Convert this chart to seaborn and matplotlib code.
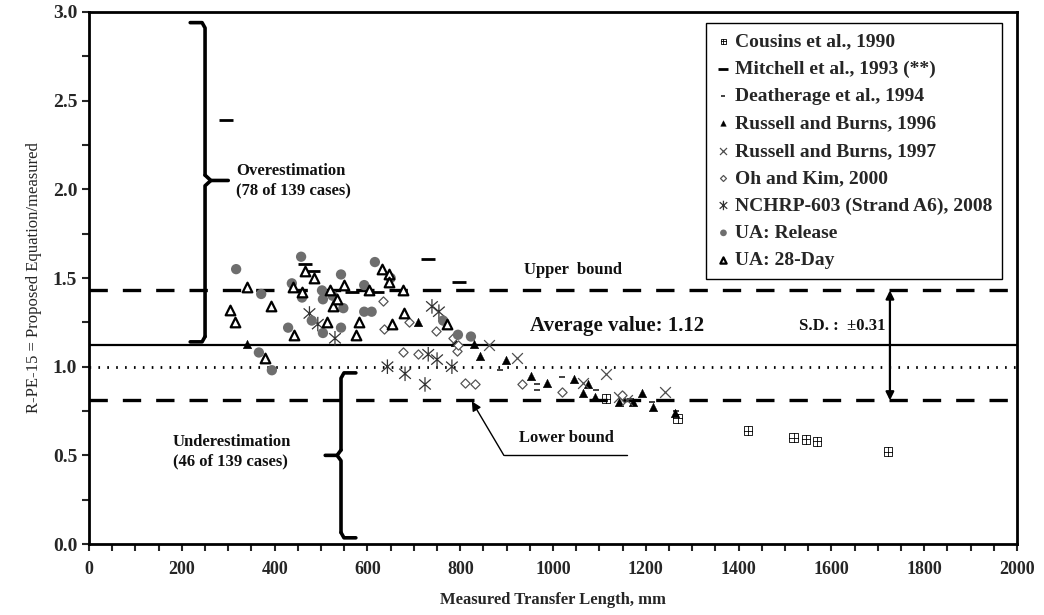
import numpy as np
import matplotlib
matplotlib.use("Agg")
import matplotlib.pyplot as plt
from matplotlib.path import Path
from matplotlib.ticker import MultipleLocator
import seaborn as sns

# ---- data (x: transfer length mm, y: ratio) ----
cousins_x = [1114, 1269, 1420, 1519, 1545, 1569, 1722]
cousins_y = [0.82, 0.71, 0.64, 0.60, 0.59, 0.58, 0.52]

mitchell_x = [295, 466, 482, 567, 620, 731, 797]
mitchell_y = [2.39, 1.58, 1.54, 1.42, 1.42, 1.61, 1.48]

deatherage_x = [886, 965, 965, 1019, 1093, 1166, 1213, 1265]
deatherage_y = [0.98, 0.90, 0.87, 0.94, 0.87, 0.82, 0.80, 0.75]

rb96_x = [341, 709, 789, 830, 843, 899, 952, 987, 1045, 1064, 1076, 1090,
          1172, 1192, 1216, 1263, 1142]
rb96_y = [1.13, 1.25, 1.14, 1.13, 1.06, 1.04, 0.95, 0.91, 0.93, 0.85, 0.90,
          0.83, 0.80, 0.85, 0.77, 0.74, 0.80]

rb97_x = [862, 922, 1064, 1114, 1142, 1160, 1241]
rb97_y = [1.12, 1.05, 0.91, 0.96, 0.83, 0.81, 0.86]

oh_x = [634, 636, 690, 748, 785, 677, 709, 793, 810, 832, 933, 1019, 1148, 796]
oh_y = [1.37, 1.21, 1.25, 1.20, 1.16, 1.08, 1.07, 1.09, 0.91, 0.90, 0.90,
        0.86, 0.84, 1.12]

nchrp_x = [475, 493, 530, 643, 681, 724, 731, 750, 782, 739, 754]
nchrp_y = [1.30, 1.24, 1.16, 1.00, 0.96, 0.90, 1.07, 1.04, 1.00, 1.34, 1.31]

ua_rel_x = [317, 371, 366, 394, 429, 437, 457, 459, 480, 502, 504, 504, 525,
            543, 543, 548, 593, 593, 609, 616, 650, 763, 795, 823]
ua_rel_y = [1.55, 1.41, 1.08, 0.98, 1.22, 1.47, 1.62, 1.39, 1.26, 1.43, 1.38,
            1.19, 1.40, 1.52, 1.22, 1.33, 1.31, 1.46, 1.31, 1.59, 1.50, 1.26,
            1.18, 1.17]

ua_28_x = [304, 315, 341, 392, 379, 440, 458, 466, 485, 442, 512, 519, 525,
           535, 550, 575, 582, 603, 631, 647, 647, 652, 677, 679, 772]
ua_28_y = [1.32, 1.25, 1.45, 1.34, 1.05, 1.45, 1.42, 1.54, 1.50, 1.18, 1.25,
           1.43, 1.34, 1.38, 1.46, 1.18, 1.25, 1.43, 1.55, 1.52, 1.48, 1.24,
           1.43, 1.30, 1.24]

avg_val = 1.12
sd_val = 0.31

# ---- custom markers ----
box_plus = Path([(-1, -1), (1, -1), (1, 1), (-1, 1), (-1, -1),
                 (0, -1), (0, 1), (-1, 0), (1, 0)],
                [Path.MOVETO, Path.LINETO, Path.LINETO, Path.LINETO, Path.CLOSEPOLY,
                 Path.MOVETO, Path.LINETO, Path.MOVETO, Path.LINETO])
star6 = Path([(-0.8, -0.7), (0.8, 0.7), (-0.8, 0.7), (0.8, -0.7), (0, -1), (0, 1)],
             [Path.MOVETO, Path.LINETO, Path.MOVETO, Path.LINETO, Path.MOVETO, Path.LINETO])

sns.set_style("ticks")
plt.rcParams['font.family'] = ['Liberation Serif', 'DejaVu Serif']
plt.rcParams['mathtext.fontset'] = 'stix'

fig = plt.figure(figsize=(10.44, 6.15), dpi=100)
ax = fig.add_axes([0.0853, 0.1154, 0.8889, 0.8651])

series = [
    (cousins_x, cousins_y, "Cousins et al., 1990",
     dict(marker=box_plus, s=40, facecolor="none", edgecolor="black", linewidth=0.6)),
    (mitchell_x, mitchell_y, "Mitchell et al., 1993 (**)",
     dict(marker="_", s=110, color="black", linewidth=2.0)),
    (deatherage_x, deatherage_y, "Deatherage et al., 1994",
     dict(marker="_", s=16, color="#333333", linewidth=1.3)),
    (rb96_x, rb96_y, "Russell and Burns, 1996",
     dict(marker="^", s=38, color="black", edgecolor="black", linewidth=0.3)),
    (rb97_x, rb97_y, "Russell and Burns, 1997",
     dict(marker="x", s=60, color="#4d4d4d", linewidth=0.9)),
    (oh_x, oh_y, "Oh and Kim, 2000",
     dict(marker="D", s=22, facecolor="white", edgecolor="#555555", linewidth=0.9)),
    (nchrp_x, nchrp_y, "NCHRP-603 (Strand A6), 2008",
     dict(marker=star6, s=110, facecolor="none", edgecolor="#333333", linewidth=0.9)),
    (ua_rel_x, ua_rel_y, "UA: Release",
     dict(marker="o", s=55, color="#6e6e6e", edgecolor="none", linewidth=0)),
    (ua_28_x, ua_28_y, "UA: 28-Day",
     dict(marker="^", s=48, facecolor="white", edgecolor="black", linewidth=1.6)),
]

# reference lines
ax.axhline(avg_val + sd_val, color="black", lw=2.4, ls=(0, (5.5, 4.5)), zorder=1)
ax.axhline(avg_val - sd_val, color="black", lw=2.4, ls=(0, (5.5, 4.5)), zorder=1)
ax.axhline(avg_val, color="black", lw=1.6, zorder=1)
ax.axhline(1.0, color="black", lw=2.0, ls=(0, (0.6, 2.6)), zorder=1)

for xs, ys, lab, kw in series:
    sns.scatterplot(x=xs, y=ys, ax=ax, label=lab, zorder=3, **kw)

ax.set_xlim(0, 2000)
ax.set_ylim(0, 3.0)
ax.xaxis.set_major_locator(MultipleLocator(200))
ax.xaxis.set_minor_locator(MultipleLocator(50))
ax.yaxis.set_major_locator(MultipleLocator(0.5))
ax.yaxis.set_minor_locator(MultipleLocator(0.25))
ax.yaxis.set_major_formatter(matplotlib.ticker.FormatStrFormatter("%.1f"))
ax.tick_params(which="both", direction="out", length=5, width=1.5,
               top=False, right=False)
ax.tick_params(axis="x", which="major", pad=7)
for lbl in ax.get_xticklabels():
    lbl.set_fontweight("bold")
    lbl.set_fontsize(13)
for lbl in ax.get_yticklabels():
    lbl.set_fontweight("bold")
    lbl.set_fontsize(14)
for sp in ax.spines.values():
    sp.set_linewidth(2.0)
    sp.set_color("black")
    sp.set_visible(True)

ax.set_xlabel("Measured Transfer Length, mm", fontsize=12, fontweight="bold", labelpad=10)
ax.set_ylabel("R-PE-15 = Proposed Equation/measured", fontsize=12, labelpad=8)


def brace(x0, y0, y1, ym, stub, tip):
    # curly bracket: vertical at x0, ends bent toward x0+stub, tip toward x0+tip
    r = 0.03
    kw = dict(color="black", lw=2.6, solid_capstyle="round", solid_joinstyle="round")
    ax.plot([x0 + stub, x0 + stub * 0.2, x0, x0], [y1, y1, y1 - r, ym + r], **kw)
    ax.plot([x0, x0 + tip * 0.25, x0 + tip], [ym + r, ym, ym], **kw)
    ax.plot([x0 + tip * 0.25, x0, x0], [ym, ym - r, y0 + r], **kw)
    ax.plot([x0, x0 + stub * 0.2, x0 + stub], [y0 + r, y0, y0], **kw)


brace(250, 1.14, 2.94, 2.05, -32, 50)
brace(543, 0.035, 0.965, 0.50, 32, -34)

tfont = dict(fontsize=12, fontweight="bold", color="#111111")
ax.text(317, 2.05, "Overestimation\n(78 of 139 cases)", ha="left", va="center",
        linespacing=1.25, **tfont)
ax.text(181, 0.52, "Underestimation\n(46 of 139 cases)", ha="left", va="center",
        linespacing=1.25, **tfont)
ax.text(1043, 1.545, "Upper  bound", ha="center", va="center", **tfont)
ax.text(1138, 1.23, "Average value: 1.12", ha="center", va="center",
        fontsize=15, fontweight="bold", color="#111111")
ax.text(1716, 1.23, "S.D. :  \u00b10.31", ha="right", va="center", **tfont)
ax.text(1028, 0.60, "Lower bound", ha="center", va="center", **tfont)

# S.D. double arrow
ax.annotate("", xy=(1726, avg_val + sd_val), xytext=(1726, avg_val - sd_val),
            arrowprops=dict(arrowstyle="<|-|>", color="black", lw=1.6,
                            mutation_scale=12, shrinkA=0, shrinkB=0))
# lower bound pointer
ax.plot([894, 1160], [0.50, 0.50], color="black", lw=1.0)
ax.annotate("", xy=(825, 0.805), xytext=(894, 0.50),
            arrowprops=dict(arrowstyle="-|>", color="black", lw=1.0,
                            mutation_scale=14, shrinkA=0, shrinkB=0))

leg = ax.legend(loc="upper right", bbox_to_anchor=(0.984, 0.979), borderaxespad=0,
                frameon=True, fancybox=False, edgecolor="black", framealpha=1,
                prop=dict(family="Liberation Serif", weight="bold", size=14),
                handlelength=0.8, handletextpad=0.2, labelspacing=0.5,
                borderpad=0.5, scatterpoints=1, markerscale=0.65)
leg.get_frame().set_linewidth(1.0)
leg.set_zorder(5)

fig.savefig("out.png", dpi=100)
